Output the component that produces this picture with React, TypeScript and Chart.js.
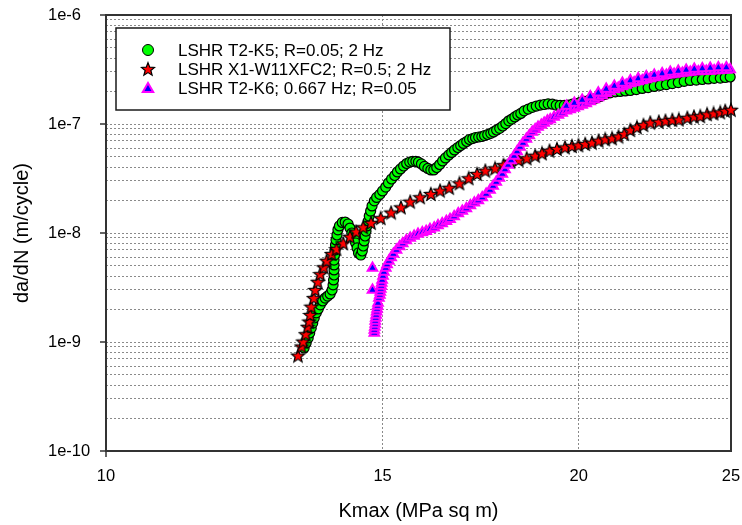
import { useEffect, useRef } from "react";
import { Chart, registerables } from "chart.js";

Chart.register(...registerables);

// Axis ticks and titles
const xTicks = [10, 15, 20, 25];
const xTickLabels = ["10", "15", "20", "25"];
const yDecades = [1e-10, 1e-9, 1e-8, 1e-7, 1e-6];
const yTickLabels = ["1e-10", "1e-9", "1e-8", "1e-7", "1e-6"];
const xTitle = "Kmax (MPa sq m)";
const yTitle = "da/dN (m/cycle)";
const seriesNames = [
  "LSHR T2-K5; R=0.05; 2 Hz",
  "LSHR X1-W11XFC2; R=0.5; 2 Hz",
  "LSHR T2-K6; 0.667 Hz; R=0.05",
];

// LSHR T2-K5, R=0.05, 2 Hz
const k5Kmax = [
  13.37, 13.41, 13.45, 13.48, 13.51, 13.54, 13.57, 13.61, 13.65, 13.69,
  13.74, 13.79, 13.84, 13.89, 13.93, 13.95, 13.96, 13.97, 13.97, 13.97,
  13.97, 13.98, 13.99, 14.0, 14.01, 14.03, 14.05, 14.08, 14.14, 14.2,
  14.26, 14.3, 14.34, 14.39, 14.42, 14.45, 14.48, 14.53, 14.56, 14.58,
  14.6, 14.62, 14.64, 14.66, 14.69, 14.71, 14.74, 14.77, 14.82, 14.87,
  14.94, 15.0, 15.07, 15.13, 15.2, 15.27, 15.33, 15.4, 15.47, 15.54,
  15.61, 15.68, 15.75, 15.81, 15.88, 15.95, 16.03, 16.1, 16.17, 16.24,
  16.31, 16.38, 16.45, 16.53, 16.6, 16.67, 16.75, 16.82, 16.89, 16.97,
  17.04, 17.12, 17.19, 17.27, 17.35, 17.42, 17.5, 17.58, 17.65, 17.73,
  17.81, 17.89, 17.97, 18.05, 18.13, 18.21, 18.29, 18.37, 18.46, 18.57,
  18.68, 18.79, 18.9, 19.01, 19.12, 19.24, 19.35, 19.46, 19.58, 19.69,
  19.81, 19.92, 20.04, 20.16, 20.28, 20.4, 20.52, 20.64, 20.79, 20.94,
  21.1, 21.25, 21.41, 21.57, 21.76, 21.95, 22.14, 22.34, 22.54, 22.74,
  22.94, 23.14, 23.34, 23.55, 23.76, 23.97, 24.18, 24.39, 24.61, 24.79,
  24.97,
];
const k5Rate = [
  8.81e-10, 9.79e-10, 1.09e-9, 1.21e-9, 1.34e-9, 1.49e-9, 1.66e-9, 1.85e-9, 2.01e-9, 2.19e-9,
  2.38e-9, 2.53e-9, 2.64e-9, 2.76e-9, 3.0e-9, 3.34e-9, 3.71e-9, 4.12e-9, 4.58e-9, 5.09e-9,
  5.65e-9, 6.28e-9, 6.98e-9, 7.76e-9, 8.63e-9, 9.59e-9, 1.07e-8, 1.16e-8, 1.25e-8, 1.26e-8,
  1.21e-8, 1.11e-8, 1.0e-8, 9.0e-9, 8.1e-9, 7.29e-9, 6.56e-9, 6.28e-9, 6.84e-9, 7.6e-9,
  8.45e-9, 9.39e-9, 1.04e-8, 1.16e-8, 1.29e-8, 1.43e-8, 1.59e-8, 1.77e-8, 1.97e-8, 2.12e-8,
  2.26e-8, 2.43e-8, 2.64e-8, 2.88e-8, 3.13e-8, 3.37e-8, 3.63e-8, 3.87e-8, 4.12e-8, 4.34e-8,
  4.48e-8, 4.55e-8, 4.55e-8, 4.46e-8, 4.3e-8, 4.08e-8, 3.91e-8, 3.79e-8, 3.79e-8, 3.99e-8,
  4.25e-8, 4.58e-8, 4.88e-8, 5.2e-8, 5.48e-8, 5.78e-8, 6.09e-8, 6.35e-8, 6.63e-8, 6.91e-8,
  7.21e-8, 7.36e-8, 7.52e-8, 7.6e-8, 7.68e-8, 7.84e-8, 8.01e-8, 8.22e-8, 8.45e-8, 8.81e-8,
  9.13e-8, 9.59e-8, 1.01e-7, 1.07e-7, 1.11e-7, 1.16e-7, 1.21e-7, 1.25e-7, 1.32e-7, 1.37e-7,
  1.42e-7, 1.46e-7, 1.49e-7, 1.51e-7, 1.53e-7, 1.52e-7, 1.49e-7, 1.48e-7, 1.48e-7, 1.49e-7,
  1.52e-7, 1.54e-7, 1.58e-7, 1.61e-7, 1.64e-7, 1.68e-7, 1.73e-7, 1.79e-7, 1.87e-7, 1.93e-7,
  1.97e-7, 1.99e-7, 2.01e-7, 2.03e-7, 2.07e-7, 2.12e-7, 2.16e-7, 2.21e-7, 2.26e-7, 2.3e-7,
  2.35e-7, 2.4e-7, 2.46e-7, 2.51e-7, 2.53e-7, 2.56e-7, 2.59e-7, 2.62e-7, 2.64e-7, 2.67e-7,
  2.7e-7,
];

// LSHR X1-W11XFC2, R=0.5, 2 Hz
const w11Kmax = [
  13.25, 13.32, 13.35, 13.4, 13.44, 13.47, 13.49, 13.51, 13.56, 13.59,
  13.64, 13.69, 13.76, 13.82, 13.92, 14.02, 14.16, 14.3, 14.43, 14.58,
  14.75, 14.96, 15.19, 15.41, 15.62, 15.85, 16.1, 16.32, 16.54, 16.79,
  17.02, 17.23, 17.44, 17.69, 17.91, 18.09, 18.31, 18.53, 18.76, 18.95,
  19.16, 19.37, 19.6, 19.8, 19.99, 20.19, 20.39, 20.59, 20.79, 21.0,
  21.2, 21.38, 21.57, 21.78, 21.99, 22.21, 22.49, 22.71, 22.94, 23.16,
  23.45, 23.68, 23.9, 24.14, 24.37, 24.61, 24.79, 25.0,
];
const w11Rate = [
  7.5e-10, 9.1e-10, 1.01e-9, 1.18e-9, 1.38e-9, 1.54e-9, 1.77e-9, 2.11e-9, 2.53e-9, 3.0e-9,
  3.57e-9, 4.2e-9, 4.85e-9, 5.57e-9, 6.42e-9, 7.13e-9, 8.05e-9, 9.25e-9, 1.03e-8, 1.13e-8,
  1.24e-8, 1.37e-8, 1.54e-8, 1.72e-8, 1.94e-8, 2.13e-8, 2.28e-8, 2.45e-8, 2.6e-8, 2.86e-8,
  3.18e-8, 3.48e-8, 3.73e-8, 3.92e-8, 4.2e-8, 4.51e-8, 4.67e-8, 4.85e-8, 5.12e-8, 5.38e-8,
  5.69e-8, 5.9e-8, 6.11e-8, 6.28e-8, 6.38e-8, 6.56e-8, 6.74e-8, 7.03e-8, 7.24e-8, 7.4e-8,
  7.67e-8, 8.1e-8, 8.8e-8, 9.33e-8, 9.79e-8, 1.03e-7, 1.05e-7, 1.07e-7, 1.09e-7, 1.1e-7,
  1.14e-7, 1.17e-7, 1.18e-7, 1.23e-7, 1.25e-7, 1.28e-7, 1.32e-7, 1.35e-7,
];

// LSHR T2-K6, 0.667 Hz, R=0.05
const k6Kmax = [
  14.82, 14.82, 14.83, 14.84, 14.84, 14.85, 14.86, 14.87, 14.88, 14.89,
  14.9, 14.78, 14.92, 14.94, 14.95, 14.96, 14.97, 14.98, 14.99, 15.01,
  14.78, 15.03, 15.07, 15.1, 15.14, 15.19, 15.24, 15.31, 15.38, 15.45,
  15.53, 15.62, 15.71, 15.8, 15.9, 15.99, 16.08, 16.18, 16.27, 16.37,
  16.47, 16.56, 16.66, 16.76, 16.86, 16.96, 17.06, 17.16, 17.26, 17.36,
  17.46, 17.56, 17.64, 17.72, 17.8, 17.88, 17.95, 18.03, 18.11, 18.19,
  18.27, 18.35, 18.43, 18.52, 18.6, 18.68, 18.76, 18.84, 18.93, 19.01,
  19.1, 19.18, 19.29, 19.41, 19.52, 19.64, 19.75, 19.87, 19.98, 20.1,
  20.22, 20.34, 20.46, 20.58, 20.7, 20.82, 20.94, 21.07, 21.19, 21.32,
  21.44, 21.57, 21.69, 21.82, 21.95, 22.08, 22.21, 22.34, 22.47, 22.6,
  22.74, 22.87, 23.0, 23.14, 23.28, 23.41, 23.55, 23.69, 23.83, 23.97,
  24.11, 24.25, 24.39, 24.54, 24.68, 24.83, 24.97,
  19.64, 19.87, 20.1, 20.34, 20.58, 20.82, 21.07, 21.32, 21.57, 21.82,
  22.08, 22.34, 22.6, 22.87, 23.14, 23.41, 23.69, 23.97, 24.25, 24.54,
  24.83,
];
const k6Rate = [
  1.21e-9, 1.29e-9, 1.37e-9, 1.46e-9, 1.56e-9, 1.66e-9, 1.77e-9, 1.89e-9, 2.01e-9, 2.14e-9,
  2.28e-9, 3.0e-9, 2.53e-9, 2.7e-9, 2.88e-9, 3.07e-9, 3.27e-9, 3.48e-9, 3.71e-9, 4.03e-9,
  4.78e-9, 4.39e-9, 4.78e-9, 5.14e-9, 5.54e-9, 5.96e-9, 6.42e-9, 6.98e-9, 7.52e-9, 8.01e-9,
  8.54e-9, 9.0e-9, 9.39e-9, 9.79e-9, 1.01e-8, 1.04e-8, 1.08e-8, 1.12e-8, 1.17e-8, 1.22e-8,
  1.28e-8, 1.34e-8, 1.42e-8, 1.51e-8, 1.59e-8, 1.68e-8, 1.79e-8, 1.89e-8, 1.99e-8, 2.12e-8,
  2.28e-8, 2.48e-8, 2.7e-8, 2.94e-8, 3.2e-8, 3.48e-8, 3.83e-8, 4.21e-8, 4.63e-8, 5.09e-8,
  5.6e-8, 6.15e-8, 6.7e-8, 7.29e-8, 7.84e-8, 8.45e-8, 8.9e-8, 9.39e-8, 9.79e-8, 1.02e-7,
  1.07e-7, 1.1e-7, 1.16e-7, 1.21e-7, 1.26e-7, 1.32e-7, 1.36e-7, 1.4e-7, 1.45e-7, 1.49e-7,
  1.54e-7, 1.61e-7, 1.68e-7, 1.75e-7, 1.83e-7, 1.91e-7, 1.99e-7, 2.07e-7, 2.14e-7, 2.21e-7,
  2.28e-7, 2.35e-7, 2.4e-7, 2.46e-7, 2.51e-7, 2.56e-7, 2.62e-7, 2.67e-7, 2.7e-7, 2.76e-7,
  2.82e-7, 2.85e-7, 2.88e-7, 2.91e-7, 2.94e-7, 2.97e-7, 3.0e-7, 3.03e-7, 3.03e-7, 3.07e-7,
  3.07e-7, 3.07e-7, 3.1e-7, 3.1e-7, 3.13e-7, 3.13e-7, 3.16e-7,
  1.46e-7, 1.56e-7, 1.66e-7, 1.79e-7, 1.93e-7, 2.1e-7, 2.23e-7, 2.38e-7, 2.51e-7, 2.62e-7,
  2.73e-7, 2.82e-7, 2.91e-7, 3.0e-7, 3.07e-7, 3.13e-7, 3.2e-7, 3.23e-7, 3.27e-7, 3.3e-7,
  3.3e-7,
];

const FONT = "'Liberation Sans', Arial, sans-serif";
const GRID = "#8a8a8a";
const FRAME = "#333333";
const GREEN = "#00ff00";
const RED = "#ff0000";
const BLUE = "#0000ff";
const MAGENTA = "#ff00ff";

const toPoints = (xs: number[], ys: number[]) => xs.map((x, i) => ({ x, y: ys[i] }));

function makeStar(): HTMLCanvasElement {
  const c = document.createElement("canvas");
  const s = 16;
  c.width = s;
  c.height = s;
  const g = c.getContext("2d")!;
  const cx = s / 2;
  const cy = s / 2 + 0.6;
  const ro = 7;
  const ri = 3;
  g.beginPath();
  for (let i = 0; i < 10; i++) {
    const r = i % 2 === 0 ? ro : ri;
    const a = -Math.PI / 2 + (i * Math.PI) / 5;
    const px = cx + r * Math.cos(a);
    const py = cy + r * Math.sin(a);
    if (i === 0) g.moveTo(px, py);
    else g.lineTo(px, py);
  }
  g.closePath();
  g.fillStyle = RED;
  g.fill();
  g.lineWidth = 1.2;
  g.strokeStyle = "#000";
  g.stroke();
  return c;
}

function drawTriangle(ctx: CanvasRenderingContext2D, x: number, y: number, r: number) {
  ctx.beginPath();
  ctx.moveTo(x, y - r);
  ctx.lineTo(x + r * Math.sin((Math.PI * 2) / 3), y - r * Math.cos((Math.PI * 2) / 3));
  ctx.lineTo(x + r * Math.sin((Math.PI * 4) / 3), y - r * Math.cos((Math.PI * 4) / 3));
  ctx.closePath();
  ctx.fillStyle = BLUE;
  ctx.fill();
  ctx.lineWidth = 2;
  ctx.strokeStyle = MAGENTA;
  ctx.stroke();
}

export default function App() {
  const ref = useRef<HTMLCanvasElement | null>(null);

  useEffect(() => {
    if (!ref.current) return;
    const star = makeStar();

    const decor = {
      id: "decor",
      beforeDatasetsDraw(chart: any) {
        const { ctx, chartArea: a } = chart;
        ctx.save();
        ctx.strokeStyle = FRAME;
        ctx.lineWidth = 2;
        ctx.strokeRect(a.left, a.top, a.right - a.left, a.bottom - a.top);
        ctx.lineWidth = 1.5;
        ctx.beginPath();
        for (const v of yDecades) {
          const py = chart.scales.y.getPixelForValue(v);
          ctx.moveTo(a.left - 6, py);
          ctx.lineTo(a.left, py);
        }
        const px0 = chart.scales.x.getPixelForValue(xTicks[0]);
        ctx.moveTo(px0, a.bottom);
        ctx.lineTo(px0, a.bottom + 6);
        ctx.stroke();
        ctx.restore();
      },
      afterDraw(chart: any) {
        const { ctx, chartArea: a } = chart;
        ctx.save();
        ctx.fillStyle = "#000";
        // value axis labels
        ctx.font = `16.5px ${FONT}`;
        ctx.textAlign = "left";
        ctx.textBaseline = "middle";
        yDecades.forEach((v, i) => {
          ctx.fillText(yTickLabels[i], 48, chart.scales.y.getPixelForValue(v));
        });
        // Kmax axis labels
        ctx.textAlign = "center";
        xTicks.forEach((v, i) => {
          ctx.fillText(xTickLabels[i], chart.scales.x.getPixelForValue(v), a.bottom + 25);
        });
        // titles
        ctx.font = `20px ${FONT}`;
        ctx.fillText(xTitle, (a.left + a.right) / 2, a.bottom + 60);
        ctx.save();
        ctx.translate(22, (a.top + a.bottom) / 2);
        ctx.rotate(-Math.PI / 2);
        ctx.fillText(yTitle, 0, 0);
        ctx.restore();

        // legend
        const bx = a.left + 10;
        const by = a.top + 13;
        const bw = 334;
        const bh = 82;
        ctx.fillStyle = "#fff";
        ctx.fillRect(bx, by, bw, bh);
        ctx.strokeStyle = "#1a1a1a";
        ctx.lineWidth = 1.5;
        ctx.strokeRect(bx, by, bw, bh);
        const mx = bx + 32;
        const rows = [by + 22, by + 41, by + 60];
        ctx.beginPath();
        ctx.arc(mx, rows[0], 5.5, 0, Math.PI * 2);
        ctx.fillStyle = GREEN;
        ctx.fill();
        ctx.lineWidth = 1;
        ctx.strokeStyle = "#000";
        ctx.stroke();
        ctx.drawImage(star, mx - star.width / 2, rows[1] - star.height / 2);
        drawTriangle(ctx, mx, rows[2] + 1, 6);
        ctx.fillStyle = "#000";
        ctx.font = `17px ${FONT}`;
        ctx.textAlign = "left";
        ctx.textBaseline = "middle";
        seriesNames.forEach((name, i) => ctx.fillText(name, bx + 62, rows[i] + 1));
        ctx.restore();
      },
    };

    const chart = new Chart(ref.current, {
      type: "scatter",
      data: {
        datasets: [
          {
            label: seriesNames[0],
            data: toPoints(k5Kmax, k5Rate),
            pointStyle: "circle",
            pointRadius: 5,
            backgroundColor: GREEN,
            borderColor: "#000",
            borderWidth: 1.2,
            order: 3,
            clip: false,
          },
          {
            label: seriesNames[1],
            data: toPoints(w11Kmax, w11Rate),
            pointStyle: star,
            pointRadius: 6,
            backgroundColor: RED,
            borderColor: "#000",
            order: 2,
            clip: false,
          },
          {
            label: seriesNames[2],
            data: toPoints(k6Kmax, k6Rate),
            pointStyle: "triangle",
            pointRadius: 5.5,
            backgroundColor: BLUE,
            borderColor: MAGENTA,
            borderWidth: 2,
            order: 1,
            clip: false,
          },
        ],
      },
      options: {
        animation: false,
        responsive: false,
        devicePixelRatio: 1,
        events: [],
        layout: { padding: { top: 15, right: 11, left: 0, bottom: 0 } },
        plugins: { legend: { display: false }, tooltip: { enabled: false } },
        scales: {
          x: {
            type: "logarithmic",
            min: 10,
            max: 25,
            afterBuildTicks: (s: any) => {
              s.ticks = xTicks.map((value) => ({ value }));
            },
            afterFit: (s: any) => {
              s.height = 74;
            },
            ticks: { display: false },
            grid: {
              drawTicks: false,
              lineWidth: 1,
              color: (c: any) =>
                c.tick && c.tick.value > xTicks[0] && c.tick.value < xTicks[xTicks.length - 1]
                  ? GRID
                  : "rgba(0,0,0,0)",
            },
            border: { display: false, dash: [2, 2] },
          },
          y: {
            type: "logarithmic",
            min: yDecades[0],
            max: yDecades[yDecades.length - 1],
            afterBuildTicks: (s: any) => {
              const t: { value: number }[] = [];
              for (let d = 0; d < yDecades.length - 1; d++) {
                for (let m = 1; m <= 9; m++) t.push({ value: m * yDecades[d] });
              }
              t.push({ value: yDecades[yDecades.length - 1] });
              s.ticks = t;
            },
            afterFit: (s: any) => {
              s.width = 106;
            },
            ticks: { display: false },
            grid: { drawTicks: false, lineWidth: 1, color: GRID },
            border: { display: false, dash: [2, 2] },
          },
        },
      },
      plugins: [decor],
    } as any);

    return () => chart.destroy();
  }, []);

  return (
    <div style={{ position: "fixed", left: 0, top: 0, width: 742, height: 525, background: "#fff" }}>
      <canvas ref={ref} width={742} height={525} />
    </div>
  );
}
